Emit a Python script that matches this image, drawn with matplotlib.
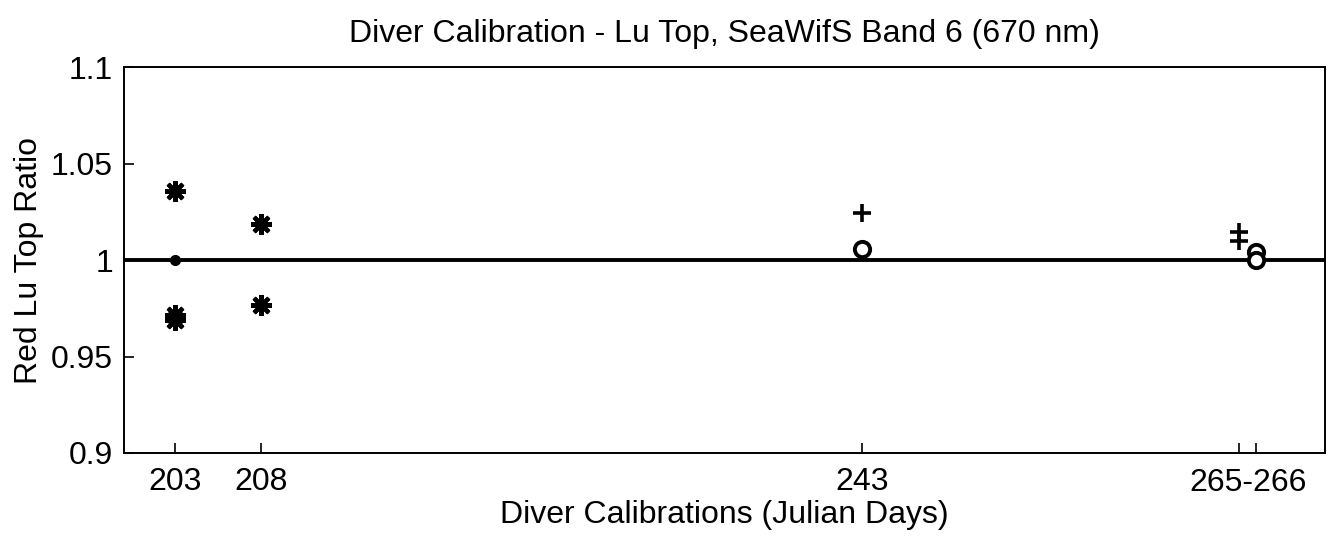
import matplotlib
matplotlib.use('Agg')
import matplotlib.pyplot as plt

plt.rcParams['font.family'] = ['Liberation Sans', 'DejaVu Sans']

# calibration days and ratios
star_days = [203, 203, 203, 208, 208]
star_vals = [1.036, 0.9718, 0.9692, 1.0186, 0.9765]
plus_days = [243, 265, 265]
plus_vals = [1.0243, 1.0145, 1.0098]
circ_days = [243, 266, 266]
circ_vals = [1.006, 1.004, 1.000]
ref_day = [203]
ref_val = [1.0]

tick_days = [203, 208, 243, 265, 266]
tick_labels = ['203', '208', '243', '', '']

fig = plt.figure(figsize=(13.29, 5.38), dpi=100)
ax = fig.add_axes([0.0933, 0.158, 0.9037, 0.717])

ax.axhline(1.0, color='black', lw=2.8, zorder=1)
ax.plot(star_days, star_vals, ls='none', marker=(8, 2, 0), ms=15, mew=3, color='black')
ax.plot(plus_days, plus_vals, ls='none', marker='+', ms=13, mew=2.6, color='black')
ax.plot(circ_days, circ_vals, ls='none', marker='o', ms=11, mew=2.8, mfc='white', mec='black')
ax.plot(ref_day, ref_val, ls='none', marker='o', ms=7, color='black')

ax.set_xlim(200, 270)
ax.set_ylim(0.9, 1.1)
ax.set_xticks(tick_days)
ax.set_xticklabels(tick_labels)
ax.text(265.5, -0.038, '265-266', transform=ax.get_xaxis_transform(),
        ha='center', va='top', fontsize=23)
ax.set_yticks([0.9, 0.95, 1.0, 1.05, 1.1])
ax.set_yticklabels(['0.9', '0.95', '1', '1.05', '1.1'])
ax.tick_params(axis='x', direction='in', length=7, width=1.2, labelsize=23, pad=10)
ax.tick_params(axis='y', direction='in', length=7, width=1.2, labelsize=23, pad=8)
for s in ax.spines.values():
    s.set_linewidth(1.4)

ax.set_xlabel('Diver Calibrations (Julian Days)', fontsize=23, labelpad=2)
ax.set_ylabel('Red Lu Top Ratio', fontsize=23, labelpad=5)
ax.set_title('Diver Calibration - Lu Top, SeaWifS Band 6 (670 nm)', fontsize=23, pad=18)

fig.savefig('out.png', dpi=100)
